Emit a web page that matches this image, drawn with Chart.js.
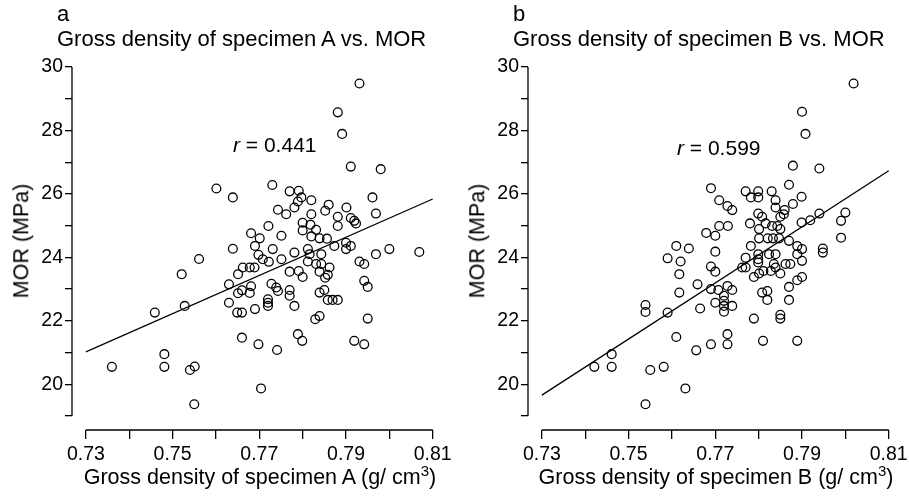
<!DOCTYPE html>
<html><head><meta charset="utf-8">
<script src="https://cdn.jsdelivr.net/npm/chart.js@4.4.1/dist/chart.umd.min.js"></script>
<style>
html,body{margin:0;padding:0;background:#fff;overflow:hidden;width:909px;height:496px;position:relative;}
.panel{position:absolute;top:0;width:456px;height:496px;}
.txt{position:absolute;font-family:"Liberation Sans",Arial,sans-serif;color:#000;white-space:nowrap;line-height:1;}
.ttl{font-size:22px;}
.xt{font-size:21.5px;width:400px;text-align:center;}
.yt{font-size:21.5px;transform:translate(-50%,-50%) rotate(-90deg);}
.rr{font-size:21px;}
sup{font-size:0.7em;line-height:0;vertical-align:0.55em;}
</style></head>
<body>
<div class="panel" style="left:0"><canvas id="cA" width="456" height="496"></canvas></div>
<div class="panel" style="left:456px"><canvas id="cB" width="456" height="496"></canvas></div>

<div class="txt ttl" style="left:57px;top:3px">a</div>
<div class="txt ttl" style="left:57px;top:28px">Gross density of specimen A vs. MOR</div>
<div class="txt ttl" style="left:513px;top:3px">b</div>
<div class="txt ttl" style="left:513px;top:28px">Gross density of specimen B vs. MOR</div>

<div class="txt rr" style="left:233px;top:134px"><i>r</i> = 0.441</div>
<div class="txt rr" style="left:677px;top:137px"><i>r</i> = 0.599</div>

<div class="txt xt" style="left:60px;top:467px">Gross density of specimen A (g/ cm<sup>3</sup>)</div>
<div class="txt xt" style="left:516px;top:467px">Gross density of specimen B (g/ cm<sup>3</sup>)</div>
<div class="txt yt" style="left:22px;top:241px">MOR (MPa)</div>
<div class="txt yt" style="left:478px;top:241px">MOR (MPa)</div>

<script>
// ---- data ----
const xTicks = [0.73,0.74,0.75,0.76,0.77,0.78,0.79,0.80,0.81];
const xTickLabels = ['0.73','','0.75','','0.77','','0.79','','0.81'];
const yTicks = [19,20,21,22,23,24,25,26,27,28,29,30];
const yTickLabels = ['','20','','22','','24','','26','','28','','30'];

const xA = [.7931,.7881,.7891,.7911,.7980,.7730,.7770,.7791,.7797,.7820,.7789,.7781,.7743,.7762,.7860,.7852,.7820,.7901,.7961,.7969,
.7881,.7911,.7919,.7923,.7800,.7818,.7721,.7881,.7800,.7831,.7681,.7701,.7751,.7820,.7839,.7856,.7900,.7601,.7639,.7639,
.7561,.7651,.7521,.7630,.7651,.7528,.7630,.7459,.7649,.7481,.7360,.7481,.7540,.7551,.7550,.7690,.7698,.7662,.7678,.7689,
.7681,.7660,.7678,.7690,.7660,.7660,.7698,.7704,.7731,.7781,.7812,.7816,.7843,.7873,.7900,.7911,.8000,.7969,.8069,.7708,
.7722,.7751,.7812,.7831,.7843,.7862,.7931,.7942,.7770,.7791,.7800,.7839,.7858,.7852,.7942,.7950,.7728,.7739,.7743,.7770,
.7770,.7850,.7839,.7720,.7720,.7720,.7858,.7869,.7881,.7781,.7839,.7829,.7950,.7789,.7799,.7919,.7942,.7741];
const yA = [29.48,28.57,27.89,26.86,26.78,26.28,26.08,26.10,25.89,25.80,25.76,25.57,25.50,25.36,25.66,25.47,25.36,25.57,25.89,25.38,
25.28,25.24,25.15,25.07,25.09,25.03,24.99,24.99,24.85,24.87,24.76,24.60,24.68,24.66,24.60,24.59,24.46,26.17,25.89,24.27,
23.95,23.47,23.47,23.15,22.87,22.47,22.57,22.26,22.26,20.95,20.55,20.55,20.45,20.56,19.37,24.36,24.08,23.68,23.68,23.68,
23.09,22.96,22.88,22.37,22.26,21.47,21.26,19.87,24.26,24.15,24.26,24.10,24.10,24.36,24.26,24.36,24.26,24.10,24.17,23.94,
23.86,23.94,23.87,23.79,23.79,23.68,23.87,23.79,23.55,23.57,23.38,23.55,23.45,23.36,23.26,23.07,23.17,23.05,22.94,22.97,
22.79,22.97,22.89,22.68,22.57,22.47,22.66,22.66,22.66,22.47,22.15,22.05,22.07,21.58,21.37,21.37,21.26,21.08];

const xB = [.8019,.7900,.7908,.7879,.7940,.7690,.7709,.7728,.7739,.7770,.7782,.7799,.7799,.7830,.7839,.7870,.7899,.7879,.7839,.7860,
.7858,.7850,.7799,.7808,.7780,.7899,.7919,.7940,.8000,.7990,.7709,.7729,.7679,.7700,.7831,.7843,.7850,.7801,.7821,.7833,
.7847,.7990,.7870,.7801,.7816,.7700,.7782,.7889,.7900,.7948,.7948,.7770,.7762,.7770,.7799,.7799,.7799,.7824,.7839,.7835,
.7862,.7873,.7889,.7900,.7690,.7700,.7789,.7801,.7811,.7828,.7839,.7850,.7889,.7900,.7870,.7870,.7690,.7707,.7728,.7739,
.7700,.7720,.7720,.7720,.7720,.7739,.7808,.7820,.7820,.7789,.7850,.7850,.7690,.7728,.7728,.7810,.7889,.7610,.7590,.7639,
.7620,.7617,.7659,.7617,.7665,.7539,.7539,.7590,.7610,.7656,.7461,.7461,.7421,.7550,.7581,.7631,.7539];
const yB = [29.48,28.59,27.89,26.89,26.80,26.18,25.80,25.62,25.49,26.08,25.89,26.08,25.89,26.08,25.80,26.29,25.91,25.68,25.57,25.49,
25.36,25.28,25.38,25.28,25.07,25.10,25.17,25.38,25.41,25.15,24.99,24.99,24.77,24.68,24.99,24.99,24.89,24.60,24.60,24.60,
24.60,24.62,24.52,24.89,25.07,24.18,24.36,24.36,24.26,24.28,24.15,23.99,23.68,23.68,24.10,23.94,23.84,24.10,24.10,23.79,
23.79,23.79,24.10,23.89,23.71,23.55,23.38,23.49,23.57,23.57,23.68,23.49,23.28,23.38,23.07,22.66,23.00,22.97,23.10,22.97,
22.57,22.79,22.63,22.47,22.29,22.47,22.89,22.94,22.66,22.07,22.19,22.07,21.26,21.58,21.26,21.37,21.37,24.36,23.97,24.28,
23.87,23.47,23.15,22.89,22.39,22.50,22.28,22.26,21.49,21.07,20.95,20.55,20.55,20.45,20.55,19.87,19.37];

const fitX = [0.73, 0.81];
const fitA = [21.02, 25.84];
const fitB = [19.66, 26.73];

// plot region (R style: data range extended by 4%)
const xMin = 0.7268, xMax = 0.8132, yMin = 18.56, yMax = 30.44;

const FONT = '"Liberation Sans", Arial, sans-serif';

const axisLines = {
  id: 'axisLines',
  afterDraw(chart) {
    const {ctx, scales: {x, y}, chartArea} = chart;
    ctx.save();
    ctx.strokeStyle = '#000';
    ctx.lineWidth = 1.3;
    ctx.beginPath();
    ctx.moveTo(chartArea.left, y.getPixelForValue(yTicks[0]));
    ctx.lineTo(chartArea.left, y.getPixelForValue(yTicks[yTicks.length - 1]));
    ctx.moveTo(x.getPixelForValue(xTicks[0]), chartArea.bottom);
    ctx.lineTo(x.getPixelForValue(xTicks[xTicks.length - 1]), chartArea.bottom);
    ctx.stroke();
    ctx.restore();
  }
};

function makeChart(id, xs, ys, fit) {
  const pts = xs.map((v, i) => ({x: v, y: ys[i]}));
  const line = fitX.map((v, i) => ({x: v, y: fit[i]}));
  return new Chart(document.getElementById(id), {
    type: 'scatter',
    data: {
      datasets: [
        {data: pts, pointStyle: 'circle', pointRadius: 4.4, pointBorderWidth: 1.3,
         borderColor: '#000', backgroundColor: 'rgba(0,0,0,0)', pointBackgroundColor: 'rgba(0,0,0,0)', pointBorderColor: '#000'},
        {type: 'line', data: line, borderColor: '#000', borderWidth: 1.3, pointRadius: 0, fill: false, tension: 0}
      ]
    },
    options: {
      responsive: false, animation: false, events: [],
      layout: {padding: {top: 53, right: 8, left: 0, bottom: 0}},
      plugins: {legend: {display: false}, tooltip: {enabled: false}},
      scales: {
        x: {
          type: 'linear', min: xMin, max: xMax,
          afterBuildTicks: (s) => { s.ticks = xTicks.map(v => ({value: v})); },
          afterFit: (s) => { s.height = 66; },
          grid: {display: true, drawOnChartArea: false, drawTicks: true, tickLength: 9, color: '#000', lineWidth: 1.3},
          border: {display: false},
          ticks: {autoSkip: false, maxRotation: 0, minRotation: 0, padding: 4, color: '#000',
                  font: {family: FONT, size: 19.5},
                  callback: (v, i) => xTickLabels[i]}
        },
        y: {
          type: 'linear', min: yMin, max: yMax,
          afterBuildTicks: (s) => { s.ticks = yTicks.map(v => ({value: v})); },
          afterFit: (s) => { s.width = 72; },
          grid: {display: true, drawOnChartArea: false, drawTicks: true, tickLength: 7, color: '#000', lineWidth: 1.3},
          border: {display: false},
          ticks: {autoSkip: false, padding: 2, color: '#000',
                  font: {family: FONT, size: 19.5},
                  callback: (v, i) => yTickLabels[i]}
        }
      }
    },
    plugins: [axisLines]
  });
}

makeChart('cA', xA, yA, fitA);
makeChart('cB', xB, yB, fitB);
</script>
</body></html>
